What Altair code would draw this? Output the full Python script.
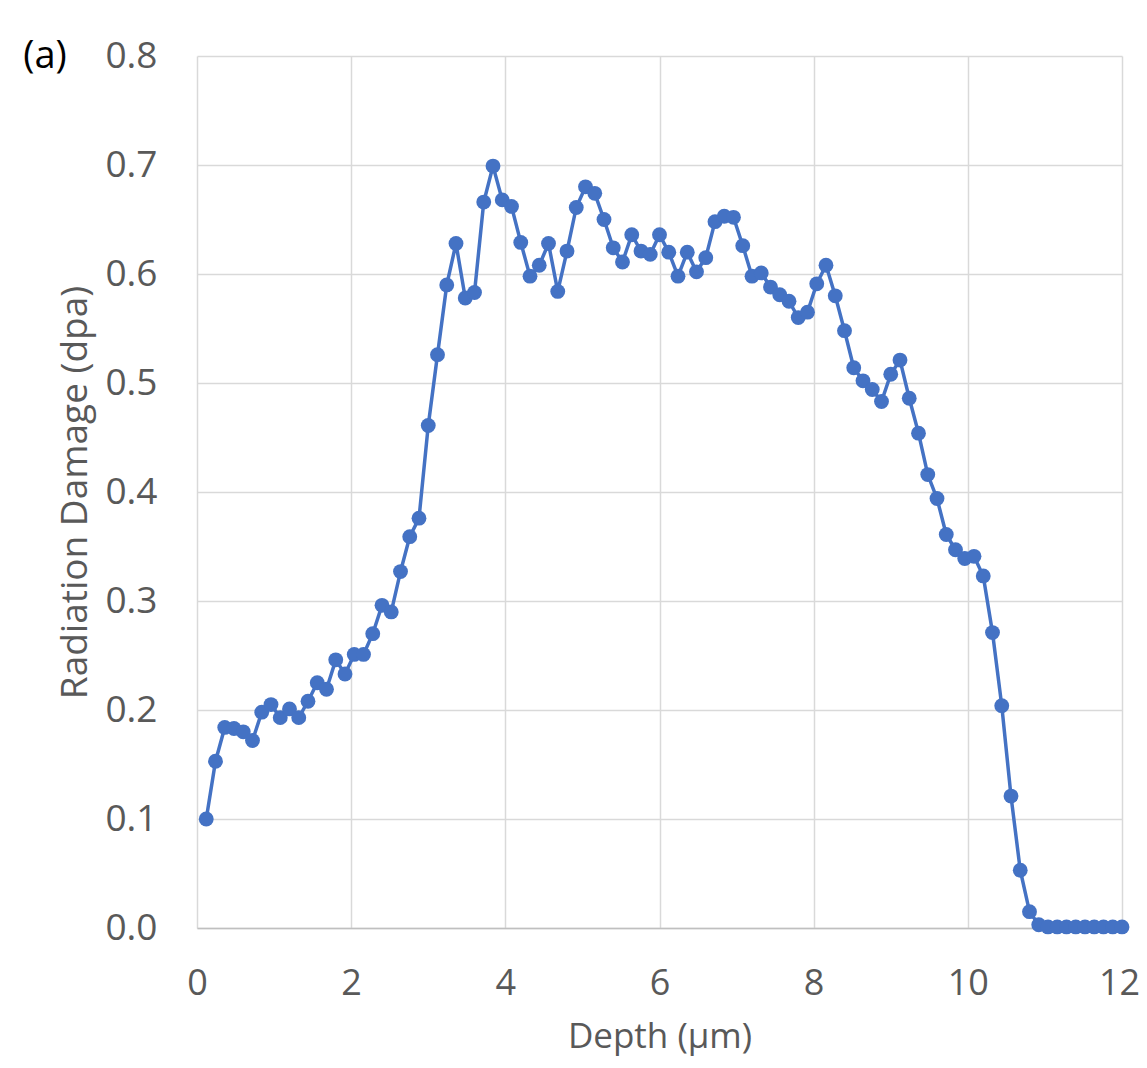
import altair as alt
import pandas as pd

depth = [round(0.12 * (i + 1), 2) for i in range(100)]
damage = [
    0.100, 0.153, 0.184, 0.183, 0.180, 0.172, 0.198, 0.205, 0.193, 0.201,
    0.193, 0.208, 0.225, 0.219, 0.246, 0.233, 0.251, 0.251, 0.270, 0.296,
    0.290, 0.327, 0.359, 0.376, 0.461, 0.526, 0.590, 0.628, 0.578, 0.583,
    0.666, 0.699, 0.668, 0.662, 0.629, 0.598, 0.608, 0.628, 0.584, 0.621,
    0.661, 0.680, 0.674, 0.650, 0.624, 0.611, 0.636, 0.621, 0.618, 0.636,
    0.620, 0.598, 0.620, 0.602, 0.615, 0.648, 0.653, 0.652, 0.626, 0.598,
    0.601, 0.588, 0.581, 0.575, 0.560, 0.565, 0.591, 0.608, 0.580, 0.548,
    0.514, 0.502, 0.494, 0.483, 0.508, 0.521, 0.486, 0.454, 0.416, 0.394,
    0.361, 0.347, 0.339, 0.341, 0.323, 0.271, 0.204, 0.121, 0.053, 0.015,
    0.003, 0.001, 0.001, 0.001, 0.001, 0.001, 0.001, 0.001, 0.001, 0.001,
]
panel_label = ["(a)"]

df = pd.DataFrame({"depth": depth, "damage": damage})
lab = pd.DataFrame({"t": panel_label})

FONT = "Open Sans"
GRAY = "#595959"
BLUE = "#4472C4"
FS = 37

x = alt.X(
    "depth:Q",
    title="Depth (μm)",
    scale=alt.Scale(domain=[0, 12], nice=False),
    axis=alt.Axis(values=[0, 2, 4, 6, 8, 10, 12], format="d", ticks=False,
                  labelFlush=False, labelFontSize=36, titleFontSize=35,
                  labelOffset={"condition": {"test": "datum.value == 12", "value": -3},
                               "value": 0},
                  domainColor="#bfbfbf", domainWidth=1.5,
                  labelPadding=38, titlePadding=18),
)
y = alt.Y(
    "damage:Q",
    title="Radiation Damage (dpa)",
    scale=alt.Scale(domain=[0, 0.8], nice=False),
    axis=alt.Axis(values=[0, 0.1, 0.2, 0.3, 0.4, 0.5, 0.6, 0.7, 0.8], format=".1f",
                  ticks=False, domain=False, labelFlush=False,
                  labelPadding=40, titlePadding=10),
)

line = alt.Chart(df).mark_line(color=BLUE, strokeWidth=3.5).encode(x=x, y=y)
pts = alt.Chart(df).mark_circle(color=BLUE, size=220, opacity=1).encode(x=x, y=y)
tag = alt.Chart(lab).mark_text(
    font=FONT, fontSize=38, color="black", align="center", baseline="middle"
).encode(text="t:N", x=alt.value(-152), y=alt.value(1))

chart = (
    alt.layer(line, pts, tag)
    .properties(
        width=925,
        height=872,
        padding={"left": 189, "top": 48, "right": 17, "bottom": 132},
        autosize=alt.AutoSizeParams(type="none"),
    )
    .configure_axis(
        labelFont=FONT, titleFont=FONT, labelFontSize=FS, titleFontSize=FS,
        labelColor=GRAY, titleColor=GRAY, titleFontWeight="normal",
        gridColor="#d9d9d9", gridWidth=1.5,
    )
    .configure_view(stroke=None)
)

chart.save("out.html", embed_options={"renderer": "svg", "actions": False})
